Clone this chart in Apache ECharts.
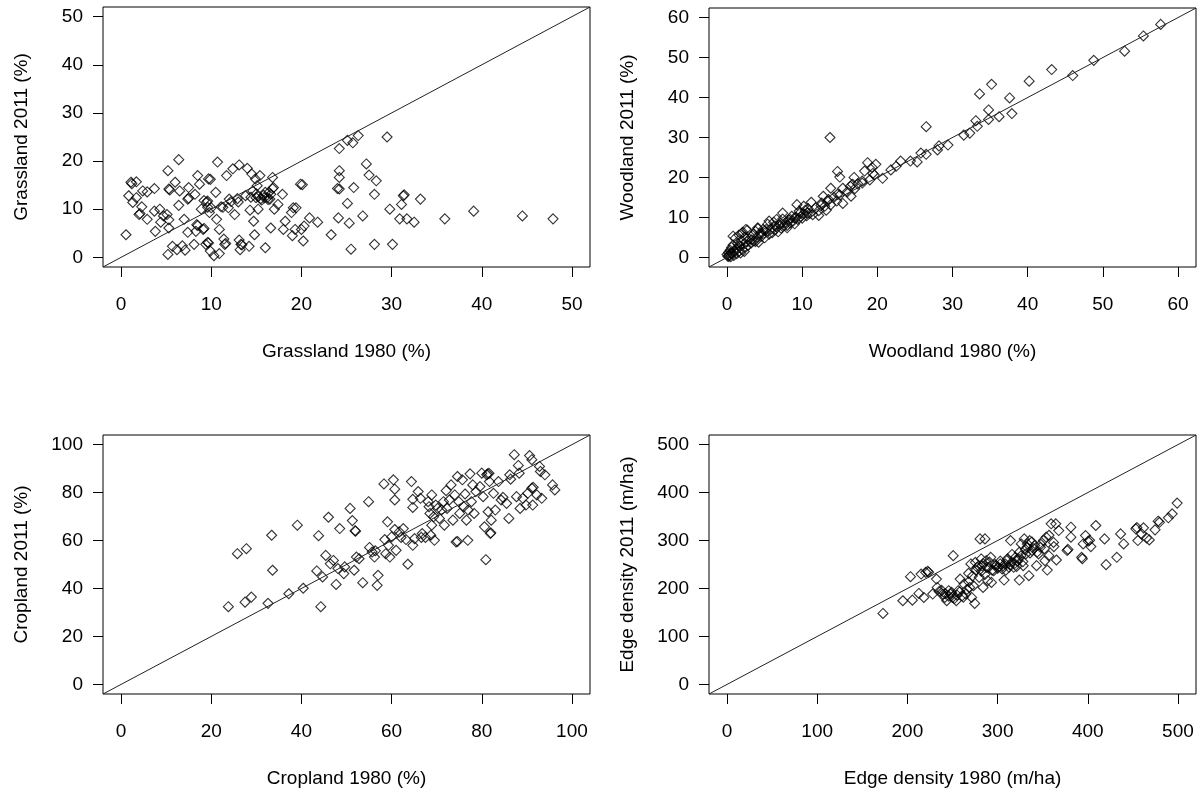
<!DOCTYPE html>
<html>
<head>
<meta charset="utf-8">
<title>Land cover 1980 vs 2011</title>
<script src="https://cdn.jsdelivr.net/npm/echarts@6/dist/echarts.min.js"></script>
<style>
  html, body { margin: 0; padding: 0; background: #fff; }
  #chart { width: 1198px; height: 794px; }
</style>
</head>
<body>
<div id="chart"></div>
<script>
// [1980, 2011] pairs
const grassland = [
  [0.55,4.7],[0.85,12.8],[1.1,15.6],[1.2,15.3],[1.3,11.4],[1.7,15.7],[1.7,12.4],[2.0,8.9],[2.1,9.1],[2.3,10.5],
  [2.4,13.8],[2.9,7.9],[2.9,13.6],[3.7,14.3],[3.7,9.6],[3.8,5.4],[4.3,10.0],[4.4,7.3],[4.7,8.6],[5.2,18.0],
  [5.1,8.9],[5.3,14.2],[5.4,14.0],[5.3,7.8],[5.3,6.1],[5.2,0.6],[5.7,2.3],[6.0,15.6],[6.2,1.6],[6.4,20.3],
  [6.4,10.8],[6.5,13.8],[6.8,2.4],[7.0,7.9],[7.1,1.5],[7.4,12.1],[7.5,12.3],[7.5,14.5],[7.4,5.2],[8.1,2.7],
  [8.3,5.4],[8.4,6.8],[8.5,6.6],[8.5,17.0],[8.7,15.2],[8.2,13.1],[8.9,10.0],[9.1,5.8],[9.2,6.0],[9.4,2.7],
  [9.5,11.5],[9.6,11.7],[9.7,16.3],[9.9,16.2],[9.8,9.3],[9.6,3.1],[9.7,3.0],[9.9,1.3],[10.0,10.3],[10.3,0.35],
  [10.5,13.5],[10.6,7.9],[10.7,19.8],[10.9,5.8],[10.9,0.8],[11.1,10.5],[11.3,10.4],[11.4,3.8],[11.5,2.7],[11.6,2.9],
  [11.7,17.0],[11.9,10.3],[12.0,12.1],[12.4,18.4],[12.6,8.9],[12.9,12.2],[13.1,19.2],[13.0,11.5],[13.1,3.6],[13.2,1.6],
  [13.3,2.7],[13.4,2.6],[13.8,12.8],[14.0,18.5],[14.2,2.3],[14.3,9.8],[14.5,17.3],[14.6,13.8],[14.7,7.5],[14.8,4.7],
  [14.9,16.3],[14.97,12.4],[15.1,14.9],[15.2,10.0],[15.4,17.0],[15.5,12.2],[15.9,12.4],[16.0,2.0],[16.0,13.5],[16.2,12.4],
  [16.4,13.5],[16.5,12.1],[16.6,6.1],[16.8,16.6],[16.8,14.3],[16.9,14.5],[17.0,10.0],[17.4,11.0],[17.9,13.1],[18.0,5.8],
  [18.2,7.5],[18.9,9.3],[19.0,4.5],[19.1,10.3],[19.4,10.3],[19.3,5.8],[19.9,15.2],[20.1,15.1],[20.0,5.8],[20.2,3.4],
  [20.3,6.5],[20.9,8.2],[21.8,7.3],[23.3,4.7],[24.1,8.2],[24.2,22.6],[24.2,18.0],[24.2,16.6],[24.0,14.3],[24.2,14.2],
  [25.1,24.3],[25.1,11.2],[25.3,7.1],[25.5,1.7],[25.7,23.8],[25.8,14.5],[26.3,25.3],[26.8,8.6],[27.2,19.4],[27.5,17.1],
  [28.1,2.7],[28.1,13.1],[28.3,15.9],[29.5,25.0],[29.8,10.0],[30.1,2.7],[30.9,8.0],[31.1,11.0],[31.3,12.8],[31.4,13.0],
  [31.7,8.0],[32.5,7.3],[33.2,12.1],[35.9,8.0],[39.1,9.6],[44.5,8.6],[47.9,8.0],
  [15.2,12.6],[15.6,11.9],[15.8,12.9],[16.3,12.0],[14.4,12.5],[15.0,13.2],[16.6,13.1],[9.6,10.4],[9.2,11.8],[12.2,11.6]
];

const woodland = [
  [57.7,58.3],[55.4,55.4],[52.9,51.6],[48.8,49.3],[46.0,45.5],[43.2,47.0],[40.2,44.1],[35.2,43.3],[33.6,40.9],[37.6,39.9],
  [37.9,36.0],[36.2,35.2],[34.8,36.9],[34.8,34.5],[33.3,32.8],[33.1,34.2],[32.3,31.1],[31.5,30.6],[29.4,28.1],[28.2,27.9],
  [28.0,26.9],[26.5,32.7],[26.5,25.8],[25.8,26.1],[25.3,23.9],[24.4,24.1],[23.1,24.1],[13.7,30.0],[20.7,19.8],[19.8,23.3],
  [19.3,22.5],[19.4,21.0],[18.7,23.7],[18.3,21.6],[18.0,19.1],[16.9,20.0],[16.7,18.3],[16.5,15.3],[14.7,21.5],[15.0,20.1],
  [15.4,17.3],[15.4,13.5],[14.7,15.8],[13.8,17.3],[13.5,14.5],[13.2,11.8],[12.8,15.3],[12.2,10.5],[12.5,13.0],[11.2,13.8],
  [10.7,11.1],[10.2,12.8],[9.3,13.2],[9.7,11.1],[9.0,9.9],[8.4,9.5],[8.0,7.4],[7.4,11.1],[7.1,8.6],[6.6,9.5],
  [6.4,7.8],[5.6,9.1],[5.2,7.0],[4.6,6.1],[4.1,7.4],[3.8,4.0],[3.3,4.4],[2.5,7.0],[2.0,6.1],[1.6,2.8],
  [1.3,1.9],[0.8,5.3],[0.5,1.1],[0.25,0.25],[0.0,0.7],
  [0.1,0.3],[0.2,1.2],[0.3,0.6],[0.4,1.8],[0.5,0.2],[0.6,2.5],[0.7,1.0],[0.8,3.1],[0.9,0.5],[1.0,1.6],
  [1.1,4.8],[1.2,2.2],[1.3,0.9],[1.4,3.5],[1.5,1.4],[1.6,5.6],[1.7,2.8],[1.8,1.1],[1.9,4.2],[2.0,2.0],
  [2.1,6.3],[2.2,3.3],[2.3,1.5],[2.4,5.1],[2.5,2.6],[2.6,4.0],[2.7,6.8],[2.8,3.0],[3.0,4.6],[3.2,3.6],
  [3.4,5.5],[3.6,4.1],[3.8,6.5],[4.0,5.0],[4.1,7.2],[4.2,3.8],[4.4,6.0],[4.6,5.3],[4.8,7.0],[5.0,4.9],
  [5.2,6.4],[5.4,8.3],[5.6,5.8],[5.8,7.1],[6.0,6.2],[6.2,8.8],[6.4,6.9],[6.6,7.6],[6.8,6.4],[7.0,8.2],
  [7.2,7.3],[7.4,9.6],[7.6,7.9],[7.8,8.7],[8.0,8.0],[8.2,9.4],[8.4,8.6],[8.6,10.3],[8.8,9.1],[9.0,8.4],
  [9.2,10.0],[9.4,9.5],[9.6,11.6],[9.8,10.2],[10.0,9.8],[10.2,10.9],[10.4,11.8],[10.6,10.4],[10.8,12.2],[11.0,11.0],
  [11.4,10.7],[11.8,12.4],[12.2,11.7],[12.6,13.6],[13.0,12.8],[13.4,14.2],[13.8,13.2],[14.2,15.0],[14.6,14.1],[15.0,15.6],
  [16.0,16.4],[16.4,17.8],[17.0,17.2],[17.4,18.4],[18.0,18.6],[19.0,19.4],[19.6,20.6],[21.8,21.9],[22.5,22.8]
];

const cropland = [
  [23.8,32.4],[25.8,54.5],[27.8,56.6],[27.5,34.3],[28.9,36.4],[32.6,33.8],[33.4,62.2],[33.6,47.6],[37.2,37.8],[39.1,66.4],
  [40.4,40.1],[43.4,47.3],[43.8,62.0],[44.3,32.4],[44.7,44.8],[45.4,53.8],[46.0,69.7],[46.4,50.3],[47.1,51.7],[47.7,41.7],
  [48.5,65.0],[48.1,48.3],[49.4,46.2],[49.6,49.0],[50.8,73.4],[51.3,68.3],[51.7,47.6],[51.9,64.1],[52.0,63.9],[52.2,53.1],
  [52.8,52.4],[53.6,42.4],[54.9,76.2],[55.1,57.1],[55.7,55.2],[56.2,53.1],[56.4,55.7],[57.0,45.5],[56.8,41.3],[58.3,83.6],
  [58.5,60.4],[58.7,54.5],[59.1,67.8],[59.3,58.0],[59.6,53.1],[60.0,61.5],[60.4,85.3],[60.7,81.4],[60.7,76.9],[60.7,64.6],
  [61.0,55.9],[61.7,63.6],[62.1,61.3],[62.6,65.0],[63.2,60.4],[63.6,50.1],[64.4,84.6],[64.7,77.2],[64.7,73.8],[64.7,58.0],
  [65.1,60.8],[65.9,80.4],[66.4,77.6],[66.6,61.3],[66.8,62.9],[67.5,61.3],[68.1,76.2],[68.3,74.1],[68.5,71.3],[68.7,62.2],
  [68.9,79.0],[68.9,66.4],[69.3,69.9],[69.5,60.1],[69.8,74.8],[70.2,73.4],[70.6,69.2],[71.1,72.7],[71.5,76.2],[71.7,66.4],
  [72.1,80.8],[72.3,73.4],[72.8,76.9],[73.2,83.2],[73.6,68.5],[74.0,79.0],[74.3,59.4],[74.6,59.6],[74.6,86.7],[74.9,76.2],
  [75.1,71.3],[75.7,85.3],[76.0,74.1],[76.3,79.4],[76.6,68.5],[76.9,60.1],[77.0,72.7],[77.4,87.8],[77.7,76.2],[78.0,83.2],
  [78.3,71.3],[78.7,80.4],[79.6,82.5],[80.0,88.1],[80.3,78.3],[80.6,65.7],[80.9,52.0],[81.3,87.8],[81.6,88.0],[81.1,87.4],
  [81.7,84.6],[81.9,62.9],[82.0,63.2],[81.4,72.0],[82.1,68.5],[82.6,79.7],[83.0,72.7],[83.7,84.6],[84.3,76.9],[84.7,78.0],
  [85.5,75.5],[86.0,69.2],[86.2,87.4],[86.4,85.6],[87.2,95.8],[87.7,78.3],[88.1,91.3],[88.3,88.1],[88.5,73.4],[89.1,77.6],
  [89.8,74.8],[90.2,79.7],[90.6,95.4],[91.1,93.7],[91.1,81.8],[91.4,82.2],[91.3,74.8],[92.2,79.0],[92.8,90.9],[93.0,88.8],
  [93.3,77.6],[94.0,87.4],[95.7,83.2],[96.2,81.1]
];

const edgeDensity = [
  [172.9,147.9],[194.9,174.4],[203.4,224.6],[205.5,175.7],[212.7,189.7],[215.2,230.1],[218.2,181.3],[220.3,233.6],[222.5,235.7],[223.5,234.0],
  [228.0,188.3],[233.0,202.2],[232.2,219.7],[235.2,193.9],[239.4,188.3],[241.5,181.3],[243.6,174.4],[245.7,195.3],[247.9,188.3],[250.8,268.5],
  [250.0,181.3],[254.2,174.4],[256.3,195.3],[258.5,219.7],[260.6,184.8],[262.7,209.2],[264.8,188.3],[267.8,231.5],[269.0,202.2],[270.3,251.1],
  [271.2,181.3],[273.3,205.7],[274.6,168.8],[275.4,254.6],[277.5,244.1],[279.6,223.2],[280.5,303.4],[281.8,261.5],[283.0,247.6],[283.9,202.2],
  [286.0,303.4],[287.3,258.0],[289.0,216.2],[290.2,244.1],[292.4,265.0],[293.2,212.7],[295.7,237.1],[298.7,247.6],[300.8,244.1],[302.9,251.1],
  [305.1,240.6],[307.2,217.6],[308.5,251.1],[310.1,258.0],[312.7,244.1],[314.4,299.9],[315.7,254.6],[317.8,244.1],[319.9,265.0],[322.0,258.0],
  [324.1,217.6],[324.1,275.5],[326.2,292.9],[328.4,247.6],[329.6,303.4],[331.3,272.0],[332.6,285.9],[334.7,226.7],[335.6,299.9],[338.1,279.0],
  [341.1,289.4],[343.2,247.6],[345.4,272.0],[347.5,285.9],[350.8,299.9],[352.5,258.0],[353.8,306.9],[355.1,238.5],[356.8,268.5],[359.4,334.8],
  [362.4,287.3],[364.5,334.8],[365.2,259.4],[367.8,320.8],[377.1,279.0],[378.0,281.5],[381.3,327.8],[381.3,306.9],[393.2,265.0],[394.0,262.0],
  [394.9,292.9],[397.5,310.3],[400.4,298.5],[402.0,300.5],[403.4,287.3],[408.9,331.3],[418.6,303.4],[420.3,249.7],[432.2,265.0],[436.4,313.8],
  [439.8,292.9],[453.3,324.3],[454.5,327.0],[455.5,299.9],[459.7,313.8],[461.8,326.4],[465.2,305.5],[468.2,301.3],[474.6,322.2],[478.0,340.3],
  [479.5,338.0],[489.4,347.3],[493.6,355.7],[499.1,378.0],
  [238,196],[242,189],[246,184],[249,192],[252,179],[255,186],[258,193],[262,182],[266,198],[268,214],
  [272,226],[276,238],[279,247],[282,236],[284,252],[286,229],[288,244],[291,255],[294,238],[297,250],
  [300,242],[303,257],[306,247],[309,238],[311,262],[314,249],[316,271],[319,252],[321,246],[323,262],
  [326,268],[328,256],[331,281],[333,293],[336,274],[338,297],[340,283],[344,276],[348,292],[352,283],
  [357,311],[362,296]
];

const grassTicks = [0, 10, 20, 30, 40, 50];
const woodTicks = [0, 10, 20, 30, 40, 50, 60];
const cropTicks = [0, 20, 40, 60, 80, 100];
const edgeTicks = [0, 100, 200, 300, 400, 500];

const panels = [
  { data: grassland, ticks: grassTicks, lim: [-2, 52], xName: 'Grassland 1980 (%)', yName: 'Grassland 2011 (%)',
    box: { left: 103, top: 7, width: 487, height: 260 } },
  { data: woodland, ticks: woodTicks, lim: [-2.4, 62.4], xName: 'Woodland 1980 (%)', yName: 'Woodland 2011 (%)',
    box: { left: 709, top: 8, width: 487, height: 259 } },
  { data: cropland, ticks: cropTicks, lim: [-4, 104], xName: 'Cropland 1980 (%)', yName: 'Cropland 2011 (%)',
    box: { left: 103, top: 435, width: 487, height: 259 } },
  { data: edgeDensity, ticks: edgeTicks, lim: [-20, 520], xName: 'Edge density 1980 (m/ha)', yName: 'Edge density 2011 (m/ha)',
    box: { left: 709, top: 435, width: 487, height: 259 } }
];

const font = "'Liberation Sans', Arial, sans-serif";
const textColor = '#000';

function makeAxis(p, i, isX) {
  return {
    type: 'value',
    gridIndex: i,
    min: p.lim[0],
    max: p.lim[1],
    name: isX ? p.xName : p.yName,
    nameLocation: 'middle',
    nameGap: isX ? 75 : 72,
    nameTextStyle: { fontFamily: font, fontSize: 19, color: textColor },
    axisLine: { show: false, onZero: false },
    axisTick: {
      show: true,
      inside: false,
      length: 10,
      customValues: p.ticks,
      lineStyle: { color: '#000', width: 1 }
    },
    axisLabel: {
      show: true,
      customValues: p.ticks,
      margin: isX ? 28 : 20,
      fontFamily: font,
      fontSize: 19,
      color: textColor
    },
    splitLine: { show: false }
  };
}

const option = {
  animation: false,
  backgroundColor: '#fff',
  grid: panels.map(p => ({
    ...p.box,
    show: true,
    borderColor: '#000',
    borderWidth: 1,
    backgroundColor: 'transparent',
    containLabel: false
  })),
  xAxis: panels.map((p, i) => makeAxis(p, i, true)),
  yAxis: panels.map((p, i) => makeAxis(p, i, false)),
  series: []
};

panels.forEach((p, i) => {
  // 1:1 reference line across the whole plot region
  option.series.push({
    type: 'line',
    xAxisIndex: i,
    yAxisIndex: i,
    data: [[p.lim[0], p.lim[0]], [p.lim[1], p.lim[1]]],
    symbol: 'none',
    silent: true,
    clip: true,
    lineStyle: { color: '#222', width: 1 }
  });
  option.series.push({
    type: 'scatter',
    xAxisIndex: i,
    yAxisIndex: i,
    data: p.data,
    symbol: 'diamond',
    symbolSize: 10,
    itemStyle: { color: 'rgba(0,0,0,0)', borderColor: '#000', borderWidth: 1.1 }
  });
});

const chart = echarts.init(document.getElementById('chart'));
chart.setOption(option);
</script>
</body>
</html>
